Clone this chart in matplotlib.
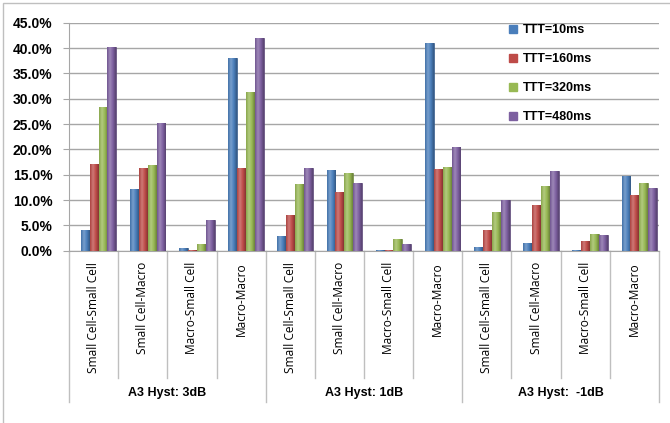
import numpy as np
import matplotlib
matplotlib.use("Agg")
import matplotlib.pyplot as plt
from matplotlib.patches import Rectangle, Patch
from matplotlib.colors import LinearSegmentedColormap, to_rgb

# values (percent)
categories = ["Small Cell-Small Cell", "Small Cell-Macro", "Macro-Small Cell", "Macro-Macro"] * 3
groups = ["A3 Hyst: 3dB", "A3 Hyst: 1dB", "A3 Hyst:  -1dB"]
series = ["TTT=10ms", "TTT=160ms", "TTT=320ms", "TTT=480ms"]
ttt_10 = [4.0, 12.2, 0.5, 38.0, 2.9, 15.9, 0.1, 40.9, 0.8, 1.5, 0.1, 14.8]
ttt_160 = [17.2, 16.4, 0.2, 16.3, 7.1, 11.5, 0.1, 16.1, 4.0, 9.0, 2.0, 11.0]
ttt_320 = [28.3, 16.9, 1.3, 31.3, 13.2, 15.4, 2.3, 16.6, 7.6, 12.8, 3.2, 13.4]
ttt_480 = [40.2, 25.3, 6.1, 42.0, 16.3, 13.4, 1.3, 20.5, 10.1, 15.8, 3.1, 12.3]
yticks = np.arange(0, 46, 5)

colors = ["#4A7EBB", "#BE4B48", "#98B954", "#7D60A0"]
grid_c = "#A6A6A6"
sep_c = "#BFBFBF"


def shade(c, f):
    r = np.array(to_rgb(c))
    if f > 0:
        return tuple(r + (1 - r) * f)
    return tuple(r * (1 + f))


W, H = 670, 423
fig = plt.figure(figsize=(W/100, H/100), dpi=100)
ax = fig.add_axes([69/W, 1-250.7/H, (659-69)/W, (250.7-22.7)/H])

x = np.arange(len(categories))
bw = 0.18
shift = 0.1
grad = np.linspace(0, 1, 64).reshape(1, -1)
for i, (vals, c) in enumerate(zip([ttt_10, ttt_160, ttt_320, ttt_480], colors)):
    cmap = LinearSegmentedColormap.from_list(
        "b%d" % i, [shade(c, -0.1), shade(c, 0.25), c, shade(c, -0.3)])
    bars = ax.bar(x + shift + (i-1.5)*bw, vals, width=bw, color=c,
                  edgecolor=shade(c, -0.3), linewidth=0.5, label=series[i], zorder=3)
    for p in bars:
        x0, y0 = p.get_x(), p.get_y()
        im = ax.imshow(grad, cmap=cmap, aspect="auto", zorder=3.5,
                       extent=(x0, x0 + p.get_width(), y0, y0 + p.get_height()))
        im.set_clip_path(p)

ax.set_xlim(-0.5, len(categories)-0.5)
ax.set_ylim(0, 45)
ax.set_yticks(yticks)
ax.set_yticklabels([f"{v:.1f}%" for v in yticks], fontfamily="Liberation Sans",
                   fontweight="bold", fontsize=10)
ax.yaxis.grid(True, color=grid_c, linewidth=1.0, zorder=0)
ax.set_axisbelow(True)
ax.tick_params(axis="y", length=4, color=grid_c, pad=8)
ax.set_xticks([])
for s in ["top", "right"]:
    ax.spines[s].set_visible(False)
ax.spines["left"].set_color(grid_c)
ax.spines["bottom"].set_color(grid_c)

# multi-level category axis
tr = ax.get_xaxis_transform()
for b in np.arange(-0.5, len(categories), 1.0):
    low = -0.662 if (b + 0.5) % 4 == 0 else -0.557
    ax.plot([b, b], [0, low], transform=tr, color=sep_c, lw=1.0, clip_on=False)
for xi, name in zip(x, categories):
    ax.text(xi, -0.05, name, transform=tr, rotation=90, ha="center", va="top",
            fontsize=8.6, fontfamily="Open Sans")
for g, name in enumerate(groups):
    ax.text(g*4 + 1.5, -0.623, name, transform=tr, ha="center", va="center",
            fontsize=9, fontweight="bold", fontfamily="Liberation Sans")

handles = [Patch(facecolor=c, edgecolor=c) for c in colors]
leg = fig.legend(handles, series, loc="upper left", bbox_to_anchor=(509/W, 1-24/H),
                 frameon=False, borderpad=0, borderaxespad=0, handlelength=0.6,
                 handleheight=0.6, handletextpad=0.5, labelspacing=1.36,
                 prop={"family": "Liberation Sans", "weight": "bold", "size": 9})

# chart area border (only top and left visible)
fig.add_artist(Rectangle((3/W, -0.1), 1.2, 1.1 - 3/H, transform=fig.transFigure,
                         fill=False, edgecolor=sep_c, lw=1.0))

fig.savefig("out.png", dpi=100)
